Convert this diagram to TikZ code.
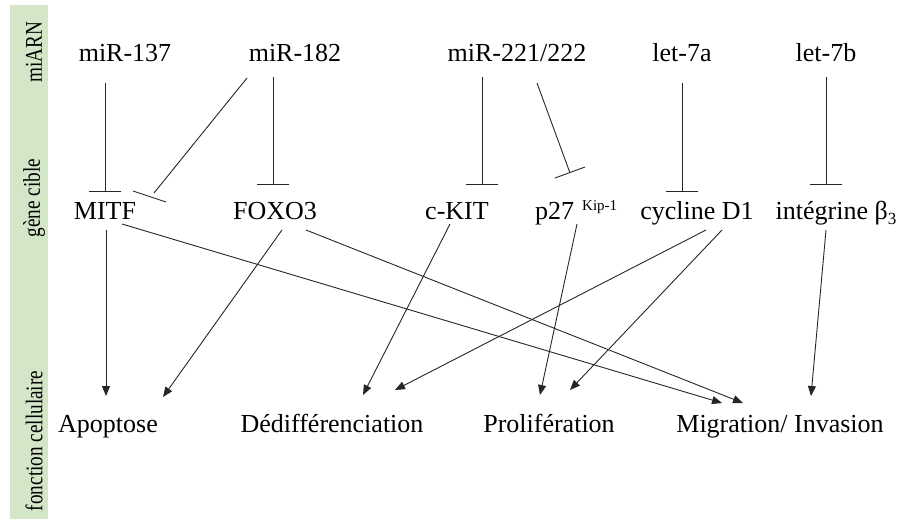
\documentclass[tikz,border=0pt]{standalone}
\usepackage{fontspec}
\setmainfont{Liberation Serif}
\usetikzlibrary{arrows.meta,calc}
\definecolor{bandgreen}{RGB}{212,230,200}
\newcommand{\narrow}[1]{\scalebox{0.8}[1]{#1}}
\begin{document}
\begin{tikzpicture}[x=1pt,y=-1pt,
  lbl/.style={inner sep=0pt, anchor=base, font=\fontsize{26}{30}\selectfont},
  side/.style={inner sep=0pt, rotate=90, font=\fontsize{24}{28}\selectfont},
  link/.style={line width=0.9pt, draw=black!85},
  inh/.style={link, -{Bar[width=32pt]}},
  act/.style={link, -{Triangle[length=10pt,width=8pt]}},
]
\useasboundingbox (0,0) rectangle (901,519);

% level band on the left
\fill[bandgreen] (10,5) rectangle (48,519);
\node[side] (lvA) at (34,52) {\narrow{miARN}};
\node[side] (lvB) at (34,198) {\narrow{gène cible}};
\node[side] (lvC) at (34,441) {\narrow{fonction cellulaire}};

% microRNAs
\node[lbl] (m137) at (125,62) {miR-137};
\node[lbl] (m182) at (295,62) {miR-182};
\node[lbl] (m221) at (517,62) {miR-221/222};
\node[lbl] (l7a)  at (682,62) {let-7a};
\node[lbl] (l7b)  at (826,62) {let-7b};

% target genes
\node[lbl] (mitf) at (105,219) {MITF};
\node[lbl] (foxo) at (275,219) {FOXO3};
\node[lbl] (ckit) at (457,219) {c-KIT};
\node[lbl, anchor=base west] (p27) at (535,219) {p27\hspace{8pt}\raisebox{9pt}{\fontsize{15}{18}\selectfont Kip-1}};
\node[lbl] (cyc)  at (697,219) {cycline D1};
\node[lbl] (itg)  at (836,219) {intégrine β\raisebox{-5pt}{\fontsize{17}{20}\selectfont 3}};

% cellular functions
\node[lbl] (apo) at (108,432) {Apoptose};
\node[lbl] (ded) at (332,432) {Dédifférenciation};
\node[lbl] (pro) at (549,432) {Prolifération};
\node[lbl] (mig) at (780,432) {Migration/ Invasion};

% inhibitions
\draw[inh] ($(m137.base)+(-20,21)$) -- ($(mitf.base)+(0,-27)$);
\draw[link] ($(m182.base)+(-48,16)$) -- ($(mitf.base)+(49,-26)$);
\draw[link] ($(mitf.base)+(28,-28)$) -- ($(mitf.base)+(61,-17)$);
\draw[inh] ($(m182.base)+(-22,15)$) -- ($(foxo.base)+(-2,-34)$);
\draw[inh] ($(m221.base)+(-35,15)$) -- ($(ckit.base)+(25,-34)$);
\draw[inh] ($(m221.base)+(20,21)$) -- ($(p27.base west)+(35,-46)$);
\draw[inh] ($(l7a.base)+(0,21)$) -- ($(cyc.base)+(-15,-27)$);
\draw[inh] ($(l7b.base)+(0,15)$) -- ($(itg.base)+(-10,-34)$);

% activations
\draw[act] ($(mitf.base)+(1,11)$) -- ($(apo.base)+(-2,-36)$);
\draw[act] ($(foxo.base)+(7,11)$) -- ($(apo.base)+(55,-35)$);
\draw[act] ($(mitf.base)+(17,5)$) -- ($(mig.base)+(-58,-29)$);
\draw[act] ($(foxo.base)+(31,11)$) -- ($(mig.base)+(-37,-29)$);
\draw[act] ($(ckit.base)+(-7,5)$) -- ($(ded.base)+(31,-37)$);
\draw[act] ($(cyc.base)+(9,11)$) -- ($(ded.base)+(63,-42)$);
\draw[act] ($(p27.base west)+(42,5)$) -- ($(pro.base)+(-9,-37)$);
\draw[act] ($(cyc.base)+(25,11)$) -- ($(pro.base)+(21,-42)$);
\draw[act] ($(itg.base)+(-10,11)$) -- ($(mig.base)+(31,-36)$);
\end{tikzpicture}
\end{document}
